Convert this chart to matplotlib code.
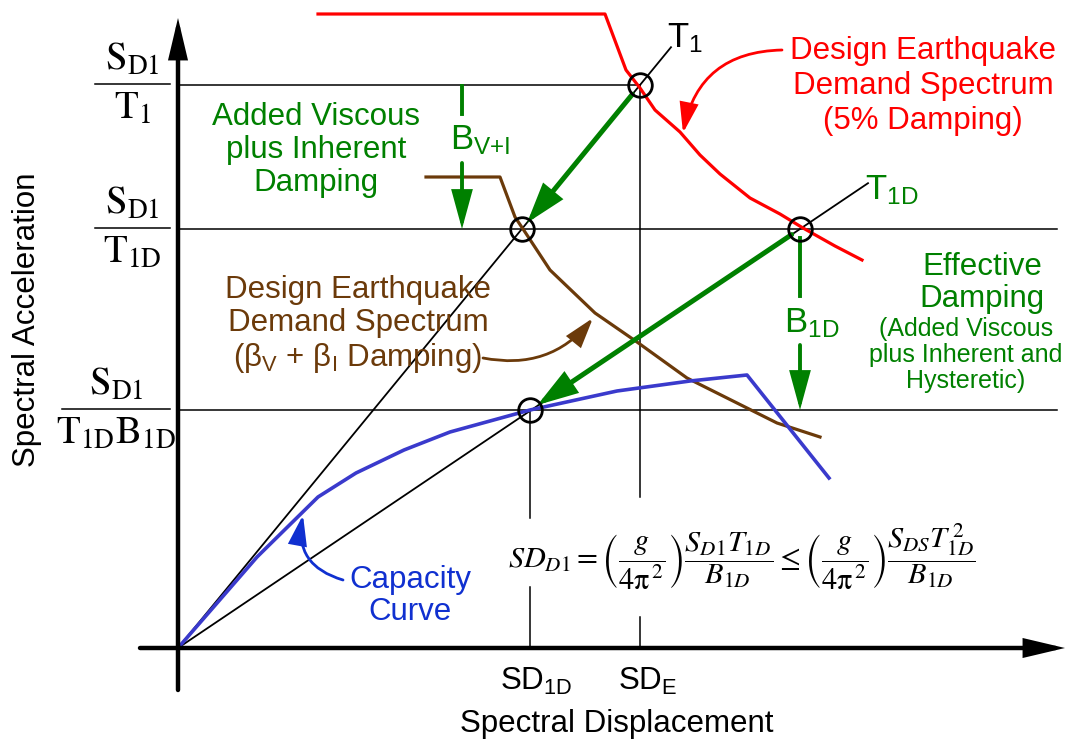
import matplotlib
matplotlib.use("Agg")
import math
import matplotlib.pyplot as plt
from matplotlib.patches import FancyArrowPatch

# ---------------- data (drawing units: displacement / acceleration) -------------
red_sd = [140, 427, 448, 462, 477, 502, 522, 542, 572, 602, 625, 657, 684]
red_sa = [634, 634, 578, 560, 538, 516, 493, 474, 450, 434, 420, 402, 388]

brown_sd = [248, 322, 337, 347, 372, 417, 459, 509, 559, 599, 642]
brown_sa = [471, 471, 431, 416, 378, 335, 306, 270, 245, 225, 211]

blue_sd = [0, 79, 140, 178, 226, 272, 352, 439, 512, 569, 651]
blue_sa = [0, 91, 151, 175, 198, 216, 238, 257, 267, 273, 170]

# key points: T1 on 5% spectrum, T1 on reduced spectrum, T1D on 5% spectrum, performance point
pt_sd = [462, 344, 622, 352]
pt_sa = [563, 419, 419, 238]

# period lines (end displacement)
t1_end = 493
t1d_end = 690

# horizontal reference levels and their end displacement
h_levels = [563, 419, 238]
h_ends = [462, 879, 879]

SANS = "Liberation Sans"
GREEN = "#008000"
RED = "#ff0000"
BROWN = "#6b3a0a"
BLUE = "#3a3acc"
BLUE_T = "#1030d0"

plt.rcParams["mathtext.fontset"] = "custom"
plt.rcParams["mathtext.rm"] = SANS
plt.rcParams["mathtext.it"] = SANS + ":italic"
plt.rcParams["font.family"] = [SANS, "DejaVu Sans"]

fig = plt.figure(figsize=(10.68, 7.42), dpi=100)
ax = fig.add_axes([0, 0, 1, 1])
ax.set_xlim(-178, 890)
ax.set_ylim(-94, 648)
ax.axis("off")


def arrow(p0, p1, color, lw, hl=0.8, hw=0.3, ms=20, cs="arc3,rad=0", z=5):
    a = FancyArrowPatch(p0, p1, arrowstyle=f"-|>,head_length={hl},head_width={hw}",
                        mutation_scale=ms, color=color, lw=lw, shrinkA=0, shrinkB=0,
                        connectionstyle=cs, zorder=z, joinstyle="miter")
    ax.add_patch(a)


# axes
arrow((0, -42), (0, 630), "black", 3.2, hl=1.1, hw=0.26)
arrow((-38, 0), (887, 0), "black", 3.2, hl=1.1, hw=0.26)

# horizontal reference lines
for lv, e in zip(h_levels, h_ends):
    ax.plot([0, e], [lv, lv], color="black", lw=1.1, zorder=2)

# vertical lines (with gaps around the formula)
sd_e = pt_sd[0]
sd_1d = pt_sd[3]
ax.plot([sd_e, sd_e], [pt_sa[0], 151], color="black", lw=1.1, zorder=2)
ax.plot([sd_e, sd_e], [31, 0], color="black", lw=1.1, zorder=2)
ax.plot([sd_1d, sd_1d], [pt_sa[3], 130], color="black", lw=1.1, zorder=2)
ax.plot([sd_1d, sd_1d], [61, 0], color="black", lw=1.1, zorder=2)

# period lines
k1 = pt_sa[0] / pt_sd[0]
k1d = pt_sa[2] / pt_sd[2]
ax.plot([0, t1_end], [0, k1 * t1_end], color="black", lw=1.3, zorder=2)
ax.plot([0, t1d_end], [0, k1d * t1d_end], color="black", lw=1.3, zorder=2)

# curves
ax.plot(red_sd, red_sa, color=RED, lw=2.3, zorder=3)
ax.plot(brown_sd, brown_sa, color=BROWN, lw=2.3, zorder=3)
ax.plot(blue_sd, blue_sa, color=BLUE, lw=2.6, zorder=3)

# circles at key points
ax.plot(pt_sd, pt_sa, "o", ms=17, mfc="none", mec="black", mew=2.0, zorder=6)


def toward(pa, pb, d):
    dx, dy = pb[0] - pa[0], pb[1] - pa[1]
    L = math.hypot(dx, dy)
    return (pa[0] + dx * d / L, pa[1] + dy * d / L)


# green thick arrows
p0 = (pt_sd[0], pt_sa[0]); p1 = (pt_sd[1], pt_sa[1])
arrow(toward(p0, p1, 12), toward(p1, p0, 8), GREEN, 3.6, hl=1.1, hw=0.35)
p2 = (pt_sd[2], pt_sa[2]); p3 = (pt_sd[3], pt_sa[3])
arrow(toward(p2, p3, 10), toward(p3, p2, 9), GREEN, 3.6, hl=1.1, hw=0.35)

# B_V+I arrow
xb = 284
ax.plot([xb, xb], [562, 534], color=GREEN, lw=2.8, zorder=4)
arrow((xb, 485), (xb, 419), GREEN, 2.8, hl=1.1, hw=0.3)
# B_1D arrow
xb2 = pt_sd[2]
ax.plot([xb2, xb2], [410, 352], color=GREEN, lw=2.8, zorder=4)
arrow((xb2, 303), (xb2, 238), GREEN, 2.8, hl=1.1, hw=0.3)

# curved callout arrows
arrow((604, 598), (505, 515), RED, 2.0, hl=0.9, hw=0.28, cs="arc3,rad=0.4")
arrow((305, 290), (415, 330), BROWN, 2.0, hl=0.9, hw=0.28, cs="arc3,rad=0.3")
arrow((165, 68), (125, 133), BLUE_T, 2.0, hl=0.9, hw=0.28, cs="arc3,rad=-0.45")


def P(px, py):
    return (px - 178, 648 - py)


FS = 22.5
# annotations
ax.text(*P(923, 86), "Design Earthquake\nDemand Spectrum\n(5% Damping)", color=RED,
        fontsize=FS, ha="center", va="center", linespacing=1.2)
ax.text(*P(316, 150), "Added Viscous\nplus Inherent\nDamping", color=GREEN,
        fontsize=FS, ha="center", va="center", linespacing=1.12)
ax.text(*P(358, 325), "Design Earthquake\nDemand Spectrum\n(β$_\\mathrm{V}$ + β$_\\mathrm{I}$ Damping)",
        color=BROWN, fontsize=FS, ha="center", va="center", linespacing=1.12)
ax.text(*P(410, 596), "Capacity\nCurve", color=BLUE_T, fontsize=FS, ha="center",
        va="center", linespacing=1.12)
ax.text(*P(982, 283), "Effective\nDamping", color=GREEN, fontsize=FS, ha="center",
        va="center", linespacing=1.1)
ax.text(*P(966, 355), "(Added Viscous\nplus Inherent and\nHysteretic)", color=GREEN,
        fontsize=18, ha="center", va="center", linespacing=1.1)

ax.text(*P(450, 140), "B$_\\mathrm{V{+}I}$", color=GREEN, fontsize=25, ha="left", va="center")
ax.text(*P(784, 323), "B$_\\mathrm{1D}$", color=GREEN, fontsize=25, ha="left", va="center")
ax.text(*P(667, 38), "T$_\\mathrm{1}$", color="black", fontsize=25, ha="left", va="center")
ax.text(*P(865, 190), "T$_\\mathrm{1D}$", color=GREEN, fontsize=25, ha="left", va="center")

# x tick labels
ax.text(*P(536, 690), "SD$_\\mathrm{1D}$", fontsize=FS, ha="center", va="baseline")
ax.text(*P(648, 690), "SD$_\\mathrm{E}$", fontsize=FS, ha="center", va="baseline")

# axis titles
ax.text(*P(617, 724), "Spectral Displacement", fontsize=FS, ha="center", va="center")
ax.text(*P(27, 320), "Spectral Acceleration", fontsize=FS, ha="center", va="center",
        rotation=90)

# y tick labels as fractions
frac_labels = [(r"$\mathrm{S_{D1}}$", r"$\mathrm{T_1}$"),
               (r"$\mathrm{S_{D1}}$", r"$\mathrm{T_{1D}}$"),
               (r"$\mathrm{S_{D1}}$", r"$\mathrm{T_{1D}B_{1D}}$")]
frac_x = [(95, 170), (95, 170), (62, 170)]
for (num, den), lv, (xa, xbb) in zip(frac_labels, h_levels, frac_x):
    xc = (xa + xbb) / 2 - 178
    ax.plot([xa - 178, xbb - 178], [lv + 1, lv + 1], color="black", lw=1.1)
    ax.text(xc, lv + 7, num, fontsize=28, ha="center", va="bottom", math_fontfamily="stix")
    ax.text(xc, lv - 6, den, fontsize=28, ha="center", va="top", math_fontfamily="stix")

# formula
ax.text(*P(742, 557),
        r"$SD_{D1} = \left(\dfrac{g}{4\mathrm{\pi}^{\,2}}\right)\dfrac{S_{D1}T_{1D}}{B_{1D}}"
        r" \leq \left(\dfrac{g}{4\mathrm{\pi}^{\,2}}\right)\dfrac{S_{DS}T_{1D}^{\,2}}{B_{1D}}$",
        fontsize=21.8, ha="center", va="center", math_fontfamily="stix")

fig.savefig("out.png", dpi=100)
